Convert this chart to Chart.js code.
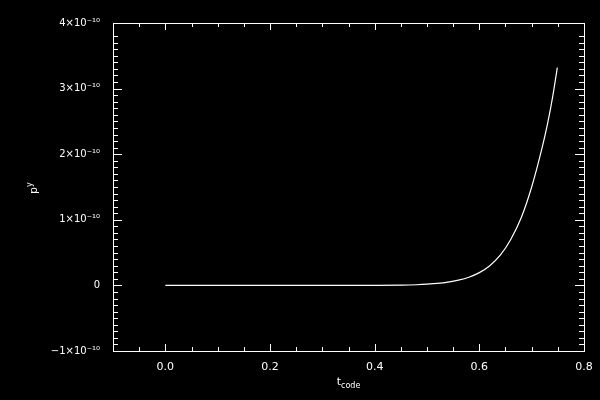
<!DOCTYPE html>
<html>
<head>
<meta charset="utf-8">
<script src="https://cdn.jsdelivr.net/npm/chart.js@4"></script>
<style>
  html, body { margin: 0; padding: 0; background: #000; }
  #wrap { width: 600px; height: 400px; }
</style>
</head>
<body>
<div id="wrap"><canvas id="pyChart" width="600" height="400"></canvas></div>
<script>
// time in code units and p^y
const tCode = [0, 0.1, 0.2, 0.3, 0.4, 0.45, 0.48, 0.5, 0.52, 0.54, 0.56, 0.58, 0.60, 0.62, 0.64, 0.66, 0.68, 0.70, 0.72, 0.73, 0.74, 0.749];
const pY = [0, 0, 0, 0, 0.001e-10, 0.004e-10, 0.01e-10, 0.018e-10, 0.03e-10, 0.05e-10, 0.08e-10, 0.125e-10, 0.195e-10, 0.30e-10, 0.46e-10, 0.70e-10, 1.03e-10, 1.50e-10, 2.10e-10, 2.45e-10, 2.87e-10, 3.32e-10];

const xRange = [-0.1, 0.8];
const yRange = [-1e-10, 4e-10];
const xMajor = 0.2, xMinor = 0.05;
const yMajor = 1e-10, yMinor = 1e-11;
const yTickText = { '-1': '\u22121\u00d710\u207b\u00b9\u2070', '0': '0', '1': '1\u00d710\u207b\u00b9\u2070', '2': '2\u00d710\u207b\u00b9\u2070', '3': '3\u00d710\u207b\u00b9\u2070', '4': '4\u00d710\u207b\u00b9\u2070' };

const FONT = 'DejaVu Sans';

function isMajor(v, step) {
    const r = v / step;
    return Math.abs(r - Math.round(r)) < 1e-6;
}

// IDL style box with inward ticks on all four sides, plus axis titles
const idlBox = {
    id: 'idlBox',
    afterDraw(chart) {
        const ctx = chart.ctx;
        const a = chart.chartArea;
        const xs = chart.scales.x, ys = chart.scales.y;
        ctx.save();
        ctx.strokeStyle = '#fff';
        ctx.lineWidth = 1;
        ctx.strokeRect(Math.round(a.left) + 0.5, Math.round(a.top) + 0.5, Math.round(a.right - a.left), Math.round(a.bottom - a.top));
        ctx.beginPath();
        xs.ticks.forEach(t => {
            const px = Math.round(xs.getPixelForValue(t.value)) + 0.5;
            const len = isMajor(t.value, xMajor) ? 7 : 4;
            ctx.moveTo(px, a.bottom); ctx.lineTo(px, a.bottom - len);
            ctx.moveTo(px, a.top); ctx.lineTo(px, a.top + len);
        });
        ys.ticks.forEach(t => {
            const py = Math.round(ys.getPixelForValue(t.value)) + 0.5;
            const len = isMajor(t.value, yMajor) ? 9 : 5;
            ctx.moveTo(a.left, py); ctx.lineTo(a.left + len, py);
            ctx.moveTo(a.right, py); ctx.lineTo(a.right - len, py);
        });
        ctx.stroke();

        // axis titles
        ctx.fillStyle = '#fff';
        ctx.textBaseline = 'alphabetic';
        ctx.font = '11px ' + FONT;
        const tW = ctx.measureText('t').width;
        ctx.font = '8px ' + FONT;
        const cW = ctx.measureText('code').width;
        const x0 = (a.left + a.right) / 2 - (tW + cW) / 2;
        ctx.font = '11px ' + FONT;
        ctx.fillText('t', x0, 385);
        ctx.font = '8px ' + FONT;
        ctx.fillText('code', x0 + tW, 388);

        ctx.translate(37, (a.top + a.bottom) / 2);
        ctx.rotate(-Math.PI / 2);
        ctx.font = '11px ' + FONT;
        const pW = ctx.measureText('p').width;
        ctx.fillText('p', -pW, 0);
        ctx.font = '8px ' + FONT;
        ctx.fillText('y', 0, -5);
        ctx.restore();
    }
};

const chartEl = document.getElementById('pyChart');
if (chartEl) {
    new Chart(chartEl, {
        type: 'line',
        data: {
            datasets: [{
                label: 'p^y',
                data: tCode.map((t, i) => ({ x: t, y: pY[i] })),
                borderColor: '#fff',
                borderWidth: 1.2,
                pointRadius: 0,
                fill: false,
                cubicInterpolationMode: 'monotone'
            }]
        },
        plugins: [idlBox],
        options: {
            responsive: false,
            animation: false,
            layout: { padding: { top: 23, right: 16, left: 0, bottom: 0 } },
            plugins: { legend: { display: false }, tooltip: { enabled: false } },
            scales: {
                x: {
                    type: 'linear',
                    min: xRange[0], max: xRange[1],
                    grid: { display: false },
                    border: { display: false },
                    afterFit(scale) { scale.height = 49; },
                    ticks: {
                        stepSize: xMinor,
                        autoSkip: false,
                        maxRotation: 0,
                        color: '#fff',
                        padding: 2,
                        font: { family: FONT, size: 11 },
                        callback: v => isMajor(v, xMajor) ? v.toFixed(1) : ''
                    }
                },
                y: {
                    type: 'linear',
                    min: yRange[0], max: yRange[1],
                    grid: { display: false },
                    border: { display: false },
                    afterFit(scale) { scale.width = 113; },
                    ticks: {
                        stepSize: yMinor,
                        autoSkip: false,
                        color: '#fff',
                        padding: 5,
                        font: { family: FONT, size: 10 },
                        callback: v => isMajor(v, yMajor) ? yTickText[String(Math.round(v / yMajor))] : ''
                    }
                }
            }
        }
    });
}
</script>
</body>
</html>
